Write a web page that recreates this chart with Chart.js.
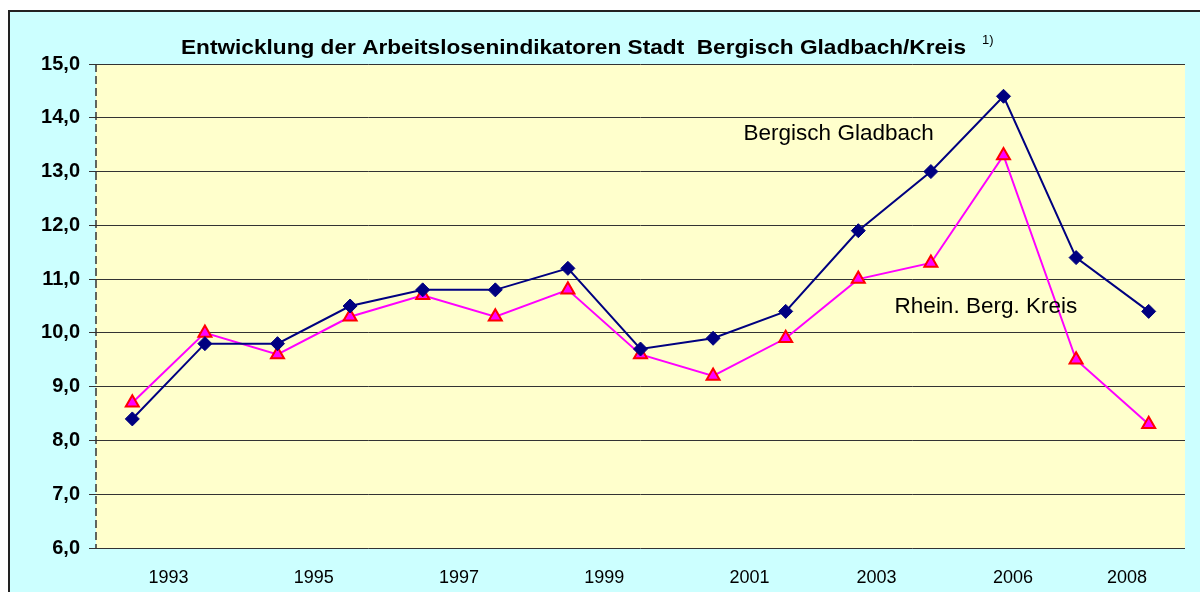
<!DOCTYPE html>
<html>
<head>
<meta charset="utf-8">
<script src="https://cdn.jsdelivr.net/npm/chart.js@4/dist/chart.umd.min.js"></script>
<style>
  body { margin: 0; background: #fff; width: 1200px; height: 592px; overflow: hidden; position: relative; }
  #box { position: absolute; left: 8px; top: 10px; width: 1220px; height: 620px; border: 2px solid #222; background: #ccffff; }
  #wrap { position: absolute; left: 10px; top: 12px; width: 1190px; height: 580px; }
</style>
</head>
<body>
<div id="box"></div>
<div id="wrap"><canvas id="chartArbeitslose"></canvas></div>
<script>
// one point per year of the series (15 points)
var categories = ['1993', '1994', '1995', '1996', '1997', '1998', '1999', '2000', '2001', '2002', '2003', '2004', '2005', '2006', '2007'];
var bergischGladbach = [8.4, 9.8, 9.8, 10.5, 10.8, 10.8, 11.2, 9.7, 9.9, 10.4, 11.9, 13.0, 14.4, 11.4, 10.4];
var rheinBergKreis = [8.7, 10.0, 9.6, 10.3, 10.7, 10.3, 10.8, 9.6, 9.2, 9.9, 11.0, 11.3, 13.3, 9.5, 8.3];

// year labels as they sit under the axis (between points)
var yearLabels = ['1993', '1995', '1997', '1999', '2001', '2003', '2006', '2008'];
var yearLabelPos = [0.5, 2.5, 4.5, 6.5, 8.5, 10.25, 12.13, 13.7];

var yTicks = [6, 7, 8, 9, 10, 11, 12, 13, 14, 15];

var titleText = 'Entwicklung der Arbeitslosenindikatoren Stadt  Bergisch Gladbach/Kreis';

// plot background, dashed left axis, title + series names
var decoPlugin = {
  id: 'deco',
  beforeDraw: function (chart) {
    var a = chart.chartArea, ctx = chart.ctx;
    ctx.save();
    ctx.fillStyle = '#ffffcc';
    ctx.fillRect(a.left, a.top, a.right - a.left, a.bottom - a.top);
    ctx.restore();
  },
  afterDraw: function (chart) {
    var ctx = chart.ctx, a = chart.chartArea, x = chart.scales.x2, y = chart.scales.y;
    ctx.save();
    // dashed value axis line
    ctx.strokeStyle = '#333';
    ctx.lineWidth = 1.5;
    ctx.setLineDash([8, 4]);
    ctx.beginPath();
    ctx.moveTo(a.left, a.top);
    ctx.lineTo(a.left, a.bottom);
    ctx.stroke();
    ctx.setLineDash([]);

    ctx.fillStyle = '#000';
    ctx.textBaseline = 'middle';
    ctx.textAlign = 'left';
    // title, stretched a little to the width it has in the original
    ctx.font = 'bold 21px "Liberation Sans", Arial, sans-serif';
    var w = ctx.measureText(titleText).width;
    ctx.save();
    ctx.translate(171, 36);
    ctx.scale(785 / w, 1);
    ctx.fillText(titleText, 0, 0);
    ctx.restore();
    ctx.font = '13px "Liberation Sans", Arial, sans-serif';
    ctx.fillText('1)', 972, 28);

    ctx.font = '22.5px "Liberation Sans", Arial, sans-serif';
    ctx.fillText('Bergisch Gladbach', x.getPixelForValue(8.42), y.getPixelForValue(13.7));
    ctx.fillText('Rhein. Berg. Kreis', x.getPixelForValue(10.5), y.getPixelForValue(10.48));
    ctx.restore();
  }
};

var ctx = document.getElementById('chartArbeitslose').getContext('2d');
new Chart(ctx, {
  type: 'line',
  data: {
    labels: categories,
    datasets: [{
      label: 'Bergisch Gladbach',
      data: bergischGladbach,
      borderColor: '#000080',
      borderWidth: 2,
      backgroundColor: '#000080',
      pointStyle: 'rectRot',
      pointRadius: 7,
      pointBorderWidth: 1,
      pointBorderColor: '#000080',
      pointBackgroundColor: '#000080',
      tension: 0,
      fill: false
    }, {
      label: 'Rhein. Berg. Kreis',
      data: rheinBergKreis,
      borderColor: '#ff00ff',
      borderWidth: 2,
      backgroundColor: '#ff00ff',
      pointStyle: 'triangle',
      pointRadius: 7.5,
      pointBorderWidth: 2,
      pointBorderColor: '#ff0000',
      pointBackgroundColor: '#ff00ff',
      tension: 0,
      fill: false
    }]
  },
  options: {
    responsive: true,
    maintainAspectRatio: false,
    animation: false,
    layout: { padding: { top: 52, right: 15, left: 0, bottom: 0 } },
    plugins: {
      legend: { display: false },
      tooltip: { enabled: false },
      title: { display: false }
    },
    scales: {
      x: {
        display: false,
        offset: true
      },
      x2: {
        type: 'linear',
        position: 'bottom',
        min: -0.5,
        max: 14.5,
        afterBuildTicks: function (scale) {
          scale.ticks = yearLabelPos.map(function (v) { return { value: v }; });
        },
        afterFit: function (scale) { scale.height = 44; },
        grid: { display: false, drawTicks: false },
        border: { display: false },
        ticks: {
          autoSkip: false,
          maxRotation: 0,
          padding: 19,
          color: '#000',
          font: { size: 18, family: '"Liberation Sans", Arial, sans-serif' },
          callback: function (value, index) { return yearLabels[index]; }
        }
      },
      y: {
        min: 6,
        max: 15,
        afterBuildTicks: function (scale) {
          scale.ticks = yTicks.map(function (v) { return { value: v }; });
        },
        afterFit: function (scale) { scale.width = 86; },
        grid: {
          color: '#333',
          lineWidth: 1,
          drawTicks: true,
          tickLength: 7,
          tickColor: '#333'
        },
        border: { display: false },
        ticks: {
          padding: 9,
          color: '#000',
          font: { size: 20, weight: 'bold', family: '"Liberation Sans", Arial, sans-serif' },
          callback: function (v) { return v.toFixed(1).replace('.', ','); }
        }
      }
    }
  },
  plugins: [decoPlugin]
});
</script>
</body>
</html>
